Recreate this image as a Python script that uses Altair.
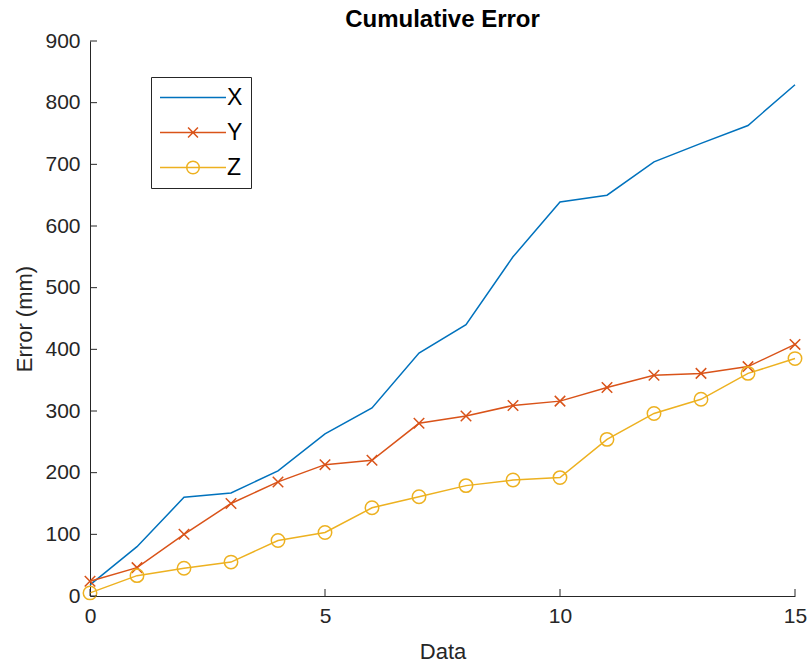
import altair as alt
import pandas as pd

# ---- data ----
x_vals = list(range(16))
err_x = [18, 80, 160, 167, 203, 263, 305, 394, 440, 550, 639, 650, 704, 734, 763, 829]
err_y = [24, 46, 100, 150, 185, 213, 220, 280, 292, 309, 316, 338, 358, 361, 372, 408]
err_z = [5, 33, 45, 55, 90, 103, 143, 161, 179, 188, 192, 254, 296, 319, 361, 385]
series_names = ["X", "Y", "Z"]
colors = ["#0072BD", "#D95319", "#EDB120"]
y_ticks = list(range(0, 1000, 100))
x_ticks = [0, 5, 10, 15]

rows = []
for name, vals in zip(series_names, [err_x, err_y, err_z]):
    for xv, v in zip(x_vals, vals):
        rows.append({"series": name, "x": xv, "err": v})
df = pd.DataFrame(rows)
ytick_df = pd.DataFrame({"err": y_ticks})
xtick_df = pd.DataFrame({"x": x_ticks})

FONT = "Liberation Sans"
AXC = "#262626"
W, H = 705, 555

xscale = alt.Scale(domain=[0, 15], nice=False, zero=False)
yscale = alt.Scale(domain=[0, 900], nice=False)
cscale = alt.Scale(domain=series_names, range=colors)

legend_shapes = [
    "M-1,0L1,0",
    "M-1,0L1,0M-0.15,-0.15L0.15,0.15M-0.15,0.15L0.15,-0.15",
    "M-1,0L1,0M-0.19,0A0.19,0.19,0,1,1,0.19,0A0.19,0.19,0,1,1,-0.19,0",
]

X = alt.X("x:Q", scale=xscale,
          axis=alt.Axis(values=x_ticks, title="Data", ticks=False, labelPadding=9,
                        labelFlush=False, titlePadding=15, grid=False))
Y = alt.Y("err:Q", scale=yscale,
          axis=alt.Axis(values=y_ticks, title="Error (mm)", ticks=False, labelPadding=10,
                        labelFlush=False, titlePadding=8, grid=False))

leg = alt.Legend(orient="none", legendX=61, legendY=36, strokeColor=AXC, fillColor="white",
                 padding=8, labelFont=FONT, labelFontSize=23, labelColor="black",
                 rowPadding=10, clipHeight=25, symbolSize=4356, symbolStrokeWidth=1.5,
                 labelOffset=0, symbolFillColor="transparent")
C = alt.Color("series:N", scale=cscale, title=None, legend=leg)

lines = alt.Chart(df).mark_line(strokeWidth=1.5).encode(
    x=X, y=Y, color=C, detail="series:N",
)

ymarks = alt.Chart(df).transform_filter(alt.datum.series == "Y").mark_point(
    shape="M-1,-1L1,1M-1,1L1,-1", filled=False, size=110, strokeWidth=1.5, opacity=1
).encode(x=X, y=Y, color=C)

zmarks = alt.Chart(df).transform_filter(alt.datum.series == "Z").mark_point(
    shape="circle", filled=False, size=180, strokeWidth=1.5, opacity=1
).encode(x=X, y=Y, color=C)

legend_layer = alt.Chart(df).transform_filter("false").mark_point(
    filled=False, opacity=1, strokeWidth=1.5
).encode(
    x=X, y=Y, color=C,
    shape=alt.Shape("series:N", scale=alt.Scale(domain=series_names, range=legend_shapes),
                    title=None, legend=leg),
)

ytick_rules = alt.Chart(ytick_df).mark_rule(color=AXC, strokeWidth=1).encode(
    y=Y, x=alt.value(0), x2=alt.value(7)
)
xtick_rules = alt.Chart(xtick_df).mark_rule(color=AXC, strokeWidth=1).encode(
    x=X, y=alt.value(H), y2=alt.value(H - 7)
)

chart = alt.layer(
    lines, ymarks, zmarks, legend_layer, ytick_rules, xtick_rules
).properties(
    width=W, height=H, background="white",
    title=alt.TitleParams("Cumulative Error", font=FONT, fontSize=24, fontWeight="bold",
                          color="black", anchor="middle", frame="group", offset=-2),
    autosize=alt.AutoSizeParams(type="none"),
    padding={"left": 90, "top": 41, "right": 13, "bottom": 68},
).configure_axis(
    domainColor=AXC, domainWidth=1, labelColor=AXC, labelFont=FONT, labelFontSize=21,
    titleColor=AXC, titleFont=FONT, titleFontSize=22, titleFontWeight="normal",
).configure_view(strokeWidth=0)

chart.save("out.html", embed_options={"renderer": "svg", "actions": False})
